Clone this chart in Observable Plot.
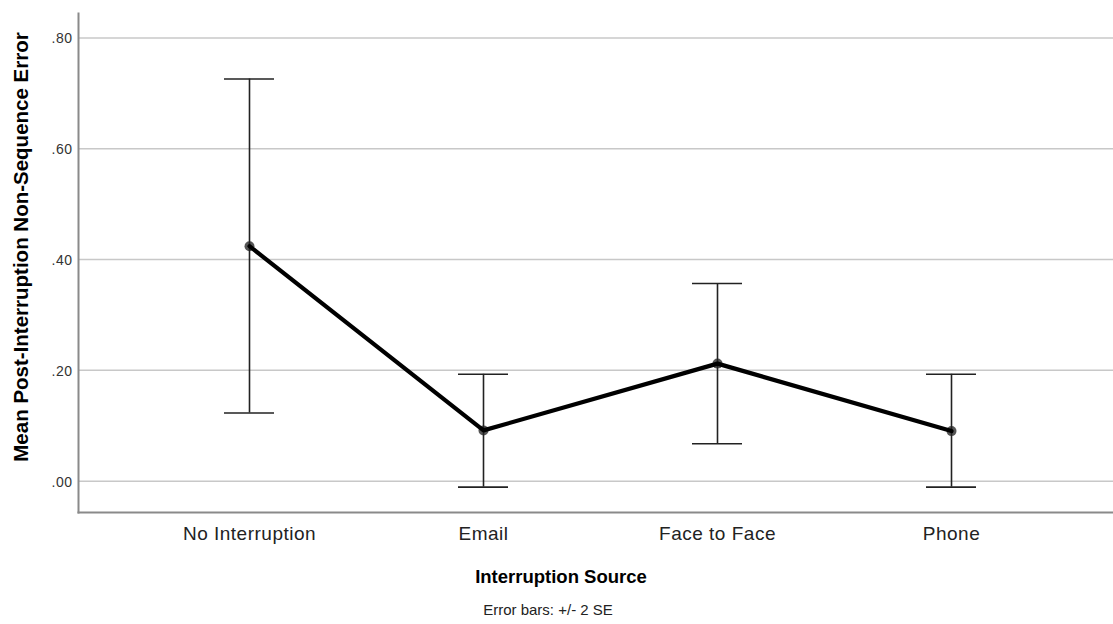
<!DOCTYPE html>
<html>
<head>
<meta charset="utf-8">
<script src="https://cdn.jsdelivr.net/npm/d3@7"></script>
<script src="https://cdn.jsdelivr.net/npm/@observablehq/plot@0.6"></script>
<style>
  html, body { margin: 0; padding: 0; background: #fff; }
  #wrap { position: relative; width: 1113px; height: 624px; font-family: "Liberation Sans", Arial, sans-serif; overflow: hidden; }
  #chart { position: absolute; left: 0; top: 0; }
  #chart g[aria-label="y-axis tick label"] { font-size: 14px; letter-spacing: 0.5px; }
  #chart g[aria-label="x-axis tick label"] { font-size: 19px; letter-spacing: 0.5px; }
  .ylab { position: absolute; left: 21px; top: 247px; transform: translate(-50%, -50%) rotate(-90deg); white-space: nowrap; font-weight: bold; font-size: 20.5px; color: #000; }
  .xlab { position: absolute; left: 561px; top: 577px; transform: translate(-50%, -50%); white-space: nowrap; font-weight: bold; font-size: 18.5px; color: #000; }
  .cap { position: absolute; left: 548px; top: 609px; transform: translate(-50%, -50%); white-space: nowrap; font-size: 15px; color: #222; }
</style>
</head>
<body>
<div id="wrap">
  <div id="chart"></div>
  <div class="ylab">Mean Post-Interruption Non-Sequence Error</div>
  <div class="xlab">Interruption Source</div>
  <div class="cap">Error bars: +/- 2 SE</div>
</div>
<script>
const categories = ["No Interruption", "Email", "Face to Face", "Phone"];
const means = [0.424, 0.0916, 0.2121, 0.0903];
const upper = [0.7257, 0.1928, 0.3566, 0.1928];
const lower = [0.1229, -0.0108, 0.0676, -0.0108];
const yTicks = [0, 0.2, 0.4, 0.6, 0.8];

const data = categories.map((c, i) => ({source: c, mean: means[i], hi: upper[i], lo: lower[i]}));
const fmt = v => d3.format(".2f")(v).replace(/^0/, "");

const chart = Plot.plot({
  width: 1113,
  height: 545,
  marginLeft: 78,
  marginRight: 0,
  marginTop: 13,
  marginBottom: 33,
  style: {fontFamily: "Liberation Sans, Arial, sans-serif", background: "#fff"},
  x: {type: "band", domain: categories, paddingInner: 0.787, paddingOuter: 0, insetLeft: 145, insetRight: 136, label: null},
  y: {domain: [-0.0566, 0.844], label: null},
  marks: [
    Plot.gridY(yTicks, {stroke: "#c8c8c8", strokeOpacity: 1, strokeWidth: 1.5}),
    Plot.axisY(yTicks, {tickSize: 0, tickPadding: 6, tickFormat: fmt, fontSize: 14, fill: "#333", label: null, dy: 1}),
    Plot.axisX({tickSize: 0, tickPadding: 14, fontSize: 19, fill: "#222", label: null}),
    Plot.frame({anchor: "left", stroke: "#8a8a8a", strokeWidth: 2}),
    Plot.frame({anchor: "bottom", stroke: "#8a8a8a", strokeWidth: 2}),
    Plot.dot(data, {x: "source", y: "mean", r: 5, fill: "#555", stroke: "none"}),
    Plot.ruleX(data, {x: "source", y1: "lo", y2: "hi", stroke: "#222", strokeWidth: 1.6}),
    Plot.tickY(data, {x: "source", y: "hi", stroke: "#222", strokeWidth: 1.6}),
    Plot.tickY(data, {x: "source", y: "lo", stroke: "#222", strokeWidth: 1.6}),
    Plot.line(data, {x: "source", y: "mean", stroke: "#000", strokeWidth: 4.2})
  ]
});
document.getElementById("chart").appendChild(chart);
</script>
</body>
</html>
